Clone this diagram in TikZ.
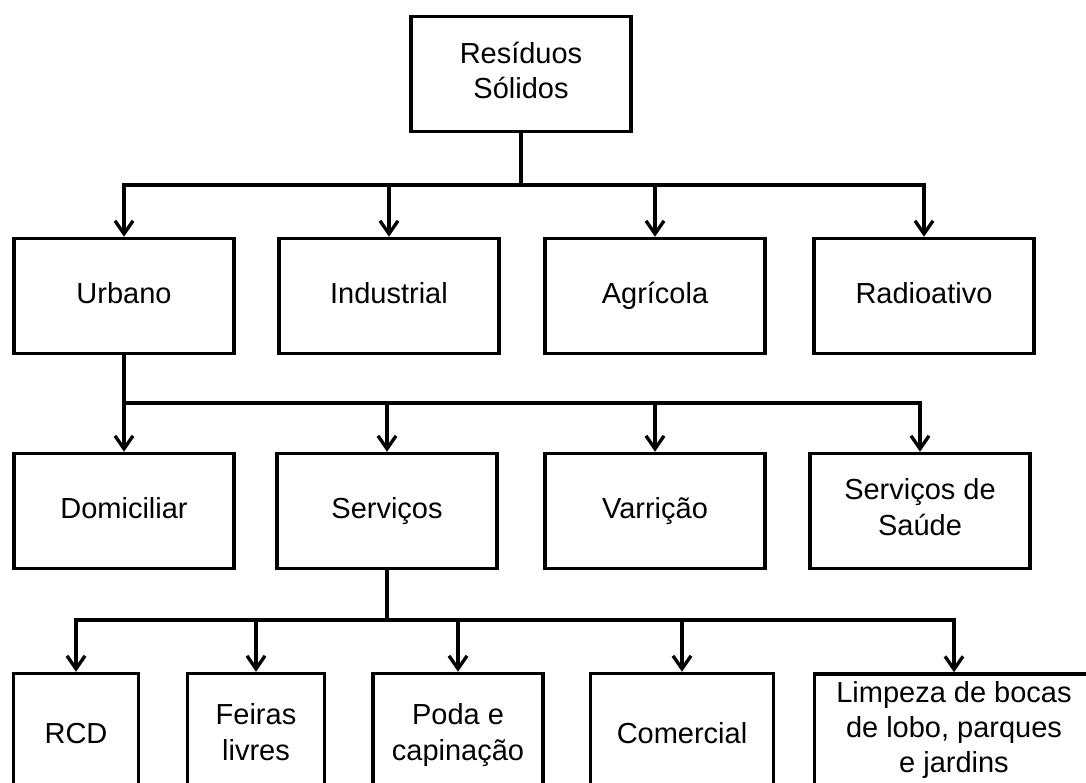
\documentclass[tikz,border=0pt]{standalone}
\usepackage{fontspec}
\setmainfont{Liberation Sans}
\usetikzlibrary{arrows.meta}
\newcommand\lnstrut{\rule[-4.5pt]{0pt}{18pt}}

\begin{document}
\begin{tikzpicture}[x=0.02cm,y=-0.02cm,
	box/.style={draw,line width=2pt,align=center,minimum width=#1,minimum height=2.3cm,inner sep=2pt,font=\fontsize{16.5}{20}\selectfont,execute at begin node=\lnstrut,execute at end node=\lnstrut},
	box/.default=4.4cm,
	low/.style={box=#1,minimum height=2.5cm},
	link/.style={line width=1.9pt,-{Straight Barb[length=2.6mm,width=3.6mm,line width=1.9pt]}},
	stem/.style={line width=2.8pt}]
	
	\useasboundingbox (0,0) rectangle (1086,783);
	\clip (0,0) rectangle (1086,783);
	
	\node[box] (res) at (521,74) {Resíduos\\Sólidos};
	
	\node[box] (urb) at (124,296) {Urbano};
	\node[box] (ind) at (389,296) {Industrial};
	\node[box] (agr) at (655,296) {Agrícola};
	\node[box] (rad) at (924,296) {Radioativo};
	
	\node[box] (dom) at (124,511) {Domiciliar};
	\node[box] (ser) at (387,511) {Serviços};
	\node[box] (var) at (655,511) {Varrição};
	\node[box] (sau) at (920,511) {Serviços de\\Saúde};
	
	\node[low=2.5cm] (rcd) at (76,736) {RCD};
	\node[low=2.74cm] (fei) at (256,736) {Feiras\\livres};
	\node[low=3.4cm] (pod) at (458,736) {Poda e\\capinação};
	\node[low=3.66cm] (com) at (682,736) {Comercial};
	\node[low=5.58cm,minimum height=2.28cm] (lim) at (954,731) {Limpeza de bocas\\de lobo, parques\\e jardins};
	
	\coordinate (b1) at (521,185);
	\coordinate (b2) at (124,403);
	\coordinate (b3) at (387,620);
	
	\draw[stem] (res) -- (b1);
	\foreach \n in {urb,ind,agr,rad}
		\draw[link] (b1) -| (\n);
	
	\draw[stem] (urb) -- (b2);
	\foreach \n in {dom,ser,var,sau}
		\draw[link] (b2) -| (\n);
	
	\draw[stem] (ser) -- (b3);
	\foreach \n in {rcd,fei,pod,com,lim}
		\draw[link] (b3) -| (\n);
	
\end{tikzpicture}
\end{document}
